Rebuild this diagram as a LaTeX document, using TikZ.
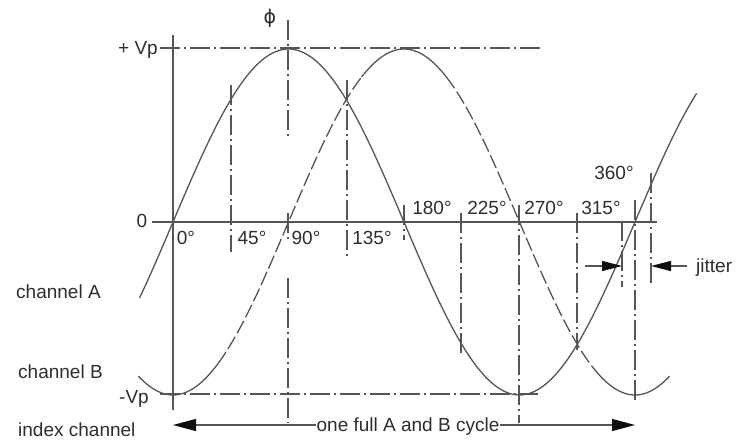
\documentclass[tikz,border=0pt]{standalone}
\usepackage{fontspec}
\setmainfont{Liberation Sans}
\newfontfamily\dejavu{DejaVu Sans}
\usetikzlibrary{arrows.meta}
\definecolor{lc}{RGB}{85,85,85}
\definecolor{tc}{RGB}{45,45,45}
\definecolor{ac}{RGB}{15,15,15}
\begin{document}
\begin{tikzpicture}[x=1pt,y=-1pt,
  lbl/.style={inner sep=0pt, text=tc, font=\fontsize{19}{22}\selectfont},
  curve/.style={draw=lc, line width=1.3pt},
  dd/.style={draw=lc, line width=1.1pt, dash pattern=on 20pt off 4pt on 2pt off 4pt},
  bdash/.style={draw=lc, line width=1.3pt, dash pattern=on 14pt off 4pt},
  axisln/.style={draw=lc, line width=1.4pt},
  arr/.style={draw=lc, line width=1.2pt, -{Triangle[length=23pt,width=12pt,color=ac,fill=ac]}},
  jarr/.style={draw=lc, line width=1.2pt, -{Triangle[length=20pt,width=10pt,color=ac,fill=ac]}}
]
\useasboundingbox (0,0) rectangle (753,440);

% axes
\draw[axisln] (173,35) -- (173,410);
\draw[axisln] (152,222) -- (657,222);

% peak lines
\draw[dd] (160,48) -- (540,48);
\draw[dd] (160,394) -- (538,394);

% channel A
\draw[curve] plot[domain=-26:408, samples=160, smooth] ({173+1.2833*\x},{222-173*sin(\x)});

% channel B
\draw[curve] plot[domain=-27:35, samples=30, smooth] ({173+1.2833*\x},{222+173*cos(\x)});
\draw[bdash] plot[domain=35:147, samples=50, smooth] ({173+1.2833*\x},{222+173*cos(\x)});
\draw[curve] plot[domain=147:213, samples=30, smooth] ({173+1.2833*\x},{222+173*cos(\x)});
\draw[bdash] plot[domain=213:327, samples=50, smooth] ({173+1.2833*\x},{222+173*cos(\x)});
\draw[curve] plot[domain=327:387, samples=30, smooth] ({173+1.2833*\x},{222+173*cos(\x)});

% vertical dash-dot markers
\draw[dd] (288,20) -- (288,137);
\draw[dd] (288,213) -- (288,240);
\draw[dd] (288,278) -- (288,423);
\draw[dd] (231,85) -- (231,252);
\draw[dd] (347,80) -- (347,258);
\draw[dd] (404,205) -- (404,240);
\draw[dd] (461,213) -- (461,355);
\draw[dd] (519,205) -- (519,423);
\draw[dd] (577,213) -- (577,350);
\draw[dd] (635,200) -- (635,402);
\draw[dd] (622,221) -- (622,287);
\draw[dd] (651,173) -- (651,287);

% labels
\node[lbl, anchor=east] (pvp) at (158,50) {+ Vp};
\node[lbl] (zero) at (142,221) {0};
\node[lbl, anchor=east] (mvp) at (149,399) {-Vp};
\node[lbl] (phi) at (270,18) {\dejavu ϕ};
\node[lbl] (d0) at (186,238) {0°};
\node[lbl] (d45) at (252,238) {45°};
\node[lbl] (d90) at (306,238) {90°};
\node[lbl] (d135) at (372,238) {135°};
\node[lbl] (d180) at (432,208) {180°};
\node[lbl] (d225) at (487,208) {225°};
\node[lbl] (d270) at (544,208) {270°};
\node[lbl] (d315) at (601,208) {315°};
\node[lbl] (d360) at (614,173) {360°};
\node[lbl, anchor=west] (cha) at (16,292) {channel A};
\node[lbl, anchor=west] (chb) at (18,372) {channel B};
\node[lbl, anchor=west] (idx) at (18,430) {index channel};
\node[lbl, anchor=west] (jit) at (696,268) {jitter};

% jitter arrows
\coordinate (jls) at (585,266);
\coordinate (jl) at (622,266);
\coordinate (jrs) at (687,266);
\coordinate (jr) at (651,266);
\draw[jarr] (jls) -- (jl);
\draw[jarr] (jrs) -- (jr);

% full cycle arrow
\node[lbl] (cyc) at (408,427) {one full A and B cycle};
\coordinate (c0) at (173,425);
\coordinate (c360) at (635,425);
\draw[arr] (cyc.west |- c0) -- (c0);
\draw[arr] (cyc.east |- c360) -- (c360);
\end{tikzpicture}
\end{document}
